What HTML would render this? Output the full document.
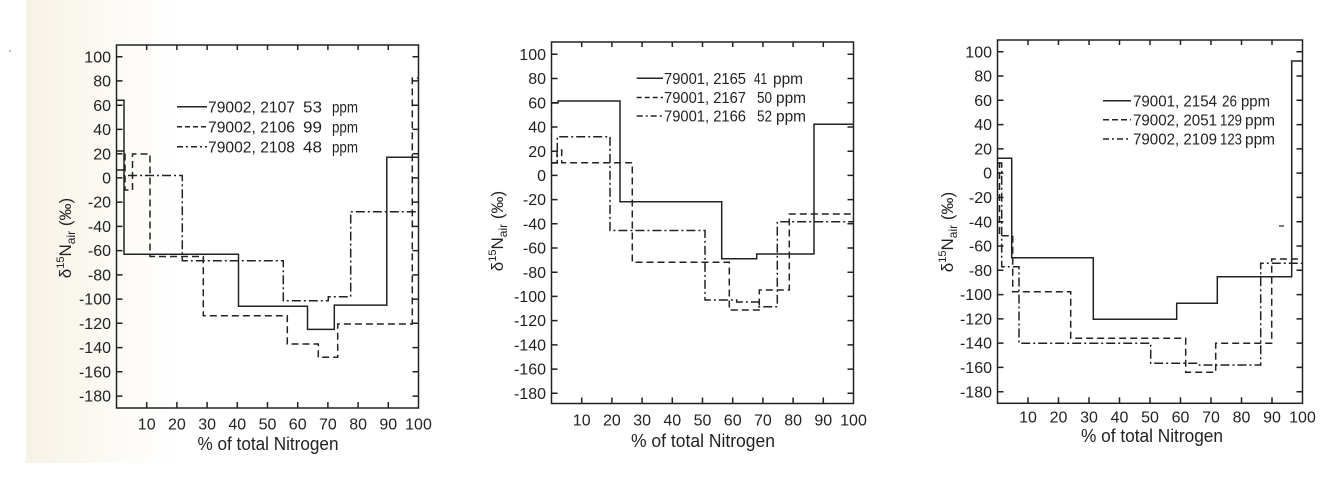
<!DOCTYPE html>
<html><head><meta charset="utf-8"><style>
html,body{margin:0;padding:0;background:#fff;}
svg{display:block;}
text{font-family:"Liberation Sans",sans-serif;fill:#222;}
</style></head><body>
<svg width="1338" height="481" viewBox="0 0 1338 481" xmlns="http://www.w3.org/2000/svg">
<defs>
<linearGradient id="cream" x1="0" y1="0" x2="1" y2="0">
<stop offset="0" stop-color="#f7f2e6"/>
<stop offset="0.5" stop-color="#fbf9f3"/>
<stop offset="1" stop-color="#ffffff"/>
</linearGradient>
</defs>
<rect x="0" y="0" width="1338" height="481" fill="#fff"/>
<rect x="26" y="0" width="150" height="463" fill="url(#cream)"/>
<circle cx="10" cy="51" r="0.8" fill="#777"/>

<g stroke="#222" stroke-width="1.5" fill="none">
<!-- Panel 1 axes -->
<rect x="116.5" y="45" width="302" height="363"/>
<path d="M116.5,56.7h6M116.5,80.9h6M116.5,105.2h6M116.5,129.4h6M116.5,153.7h6M116.5,177.9h6M116.5,202.1h6M116.5,226.4h6M116.5,250.6h6M116.5,274.9h6M116.5,299.1h6M116.5,323.3h6M116.5,347.6h6M116.5,371.8h6M116.5,396.1h6"/>
<path d="M418.5,56.7h-6M418.5,80.9h-6M418.5,105.2h-6M418.5,129.4h-6M418.5,153.7h-6M418.5,177.9h-6M418.5,202.1h-6M418.5,226.4h-6M418.5,250.6h-6M418.5,274.9h-6M418.5,299.1h-6M418.5,323.3h-6M418.5,347.6h-6M418.5,371.8h-6M418.5,396.1h-6"/>
<path d="M146.7,408v-6M176.9,408v-6M207.1,408v-6M237.3,408v-6M267.5,408v-6M297.7,408v-6M327.9,408v-6M358.1,408v-6M388.3,408v-6"/>
<path d="M146.7,45v5M176.9,45v5M207.1,45v5M237.3,45v5M267.5,45v5M297.7,45v5M327.9,45v5M358.1,45v5M388.3,45v5"/>

<!-- Panel 2 axes -->
<rect x="551.5" y="42" width="302" height="361.5"/>
<path d="M551.5,54.3h6M551.5,78.5h6M551.5,102.7h6M551.5,127h6M551.5,151.2h6M551.5,175.4h6M551.5,199.6h6M551.5,223.8h6M551.5,248h6M551.5,272.2h6M551.5,296.4h6M551.5,320.6h6M551.5,344.9h6M551.5,369.1h6M551.5,393.3h6"/>
<path d="M853.5,54.3h-6M853.5,78.5h-6M853.5,102.7h-6M853.5,127h-6M853.5,151.2h-6M853.5,175.4h-6M853.5,199.6h-6M853.5,223.8h-6M853.5,248h-6M853.5,272.2h-6M853.5,296.4h-6M853.5,320.6h-6M853.5,344.9h-6M853.5,369.1h-6M853.5,393.3h-6"/>
<path d="M581.7,403.5v-6M611.9,403.5v-6M642.1,403.5v-6M672.3,403.5v-6M702.5,403.5v-6M732.7,403.5v-6M762.9,403.5v-6M793.1,403.5v-6M823.3,403.5v-6"/>
<path d="M581.7,42v5M611.9,42v5M642.1,42v5M672.3,42v5M702.5,42v5M732.7,42v5M762.9,42v5M793.1,42v5M823.3,42v5"/>

<!-- Panel 3 axes -->
<rect x="997.5" y="40" width="305" height="363.3"/>
<path d="M997.5,51.7h6M997.5,76h6M997.5,100.3h6M997.5,124.6h6M997.5,148.9h6M997.5,173.1h6M997.5,197.4h6M997.5,221.7h6M997.5,246h6M997.5,270.3h6M997.5,294.6h6M997.5,318.9h6M997.5,343.1h6M997.5,367.4h6M997.5,391.7h6"/>
<path d="M1302.5,51.7h-6M1302.5,76h-6M1302.5,100.3h-6M1302.5,124.6h-6M1302.5,148.9h-6M1302.5,173.1h-6M1302.5,197.4h-6M1302.5,221.7h-6M1302.5,246h-6M1302.5,270.3h-6M1302.5,294.6h-6M1302.5,318.9h-6M1302.5,343.1h-6M1302.5,367.4h-6M1302.5,391.7h-6"/>
<path d="M1028,403.3v-6M1058.5,403.3v-6M1089,403.3v-6M1119.5,403.3v-6M1150,403.3v-6M1180.5,403.3v-6M1211,403.3v-6M1241.5,403.3v-6M1272,403.3v-6"/>
<path d="M1028,40v5M1058.5,40v5M1089,40v5M1119.5,40v5M1150,40v5M1180.5,40v5M1211,40v5M1241.5,40v5M1272,40v5"/>
<path d="M1279,226h5" stroke-width="1.2"/>
</g>

<!-- Series -->
<g fill="none" stroke="#222" stroke-width="1.5">
<path d="M116.5,100.3H124V254.2H238.5V306.3H307.5V329.4H334.3V305.1H386.8V157.3H418.5"/>
<path d="M116.5,151H125V190H132.5V154H150V256.5H203.3V315.7H287.3V344H318.3V357.3H337.7V324H412.3V78H418.5" stroke-dasharray="7 4"/>
<path d="M116.5,170H124V175.5H182.3V260.7H283.3V300.7H328.3V296.7H350.7V211.7H418.5" stroke-dasharray="9 3 2 3"/>

<path d="M551.5,103H558V101H620V201.7H721.7V258.7H756.7V254H814V124.3H853.5"/>
<path d="M551.5,162.7H557V150H561.7V162.7H632.3V262.3H729.3V310H759.3V290H789.3V214H853.5" stroke-dasharray="7 4"/>
<path d="M551.5,163H557.3V136.7H610V230.5H705V300H736.7V302H758.7V306.7H777.3V221.7H853.5" stroke-dasharray="9 3 2 3"/>

<path d="M997.5,158.3H1011.7V257.7H1093.3V319.3H1176.7V303.3H1217.3V276.7H1291.7V61H1302.5"/>
<path d="M997.5,163H999.5V235.7H1012.7V291.7H1070.7V338.3H1185.7V372.3H1215.7V343.3H1271.7V259H1302.5" stroke-dasharray="7 4"/>
<path d="M997.5,163H1001.7V266.7H1019V343.3H1150.7V363.3H1198V365H1260.7V263.3H1302.5" stroke-dasharray="9 3 2 3"/>
</g>

<!-- Legends -->
<g fill="none" stroke="#222" stroke-width="1.5">
<path d="M177,106.7H207"/>
<path d="M177,126.7H207" stroke-dasharray="5 3"/>
<path d="M177,146.7H207" stroke-dasharray="6 3 2 3"/>
<path d="M636.7,78.3H663"/>
<path d="M636.7,97.5H663" stroke-dasharray="5 3"/>
<path d="M636.7,116H663" stroke-dasharray="6 3 2 3"/>
<path d="M1103,100.7H1131"/>
<path d="M1103,119.7H1131" stroke-dasharray="6 3"/>
<path d="M1103,139H1131" stroke-dasharray="6 3 2 3"/>
</g>
<g font-size="16">
<text x="208" y="112.3" textLength="87" lengthAdjust="spacingAndGlyphs">79002, 2107</text>
<text x="303" y="112.3" textLength="19" lengthAdjust="spacingAndGlyphs">53</text>
<text x="332" y="112.3" textLength="26" lengthAdjust="spacingAndGlyphs">ppm</text>
<text x="208" y="132.3" textLength="87" lengthAdjust="spacingAndGlyphs">79002, 2106</text>
<text x="303" y="132.3" textLength="19" lengthAdjust="spacingAndGlyphs">99</text>
<text x="332" y="132.3" textLength="26" lengthAdjust="spacingAndGlyphs">ppm</text>
<text x="208" y="152.3" textLength="87" lengthAdjust="spacingAndGlyphs">79002, 2108</text>
<text x="303" y="152.3" textLength="19" lengthAdjust="spacingAndGlyphs">48</text>
<text x="332" y="152.3" textLength="26" lengthAdjust="spacingAndGlyphs">ppm</text>

<text x="664" y="83.9" textLength="82" lengthAdjust="spacingAndGlyphs">79001, 2165</text>
<text x="754" y="83.9" textLength="13" lengthAdjust="spacingAndGlyphs">41</text>
<text x="773" y="83.9" textLength="30" lengthAdjust="spacingAndGlyphs">ppm</text>
<text x="664" y="103.1" textLength="82" lengthAdjust="spacingAndGlyphs">79001, 2167</text>
<text x="757" y="103.1" textLength="15" lengthAdjust="spacingAndGlyphs">50</text>
<text x="776" y="103.1" textLength="30" lengthAdjust="spacingAndGlyphs">ppm</text>
<text x="664" y="121.6" textLength="82" lengthAdjust="spacingAndGlyphs">79001, 2166</text>
<text x="757" y="121.6" textLength="15" lengthAdjust="spacingAndGlyphs">52</text>
<text x="776" y="121.6" textLength="30" lengthAdjust="spacingAndGlyphs">ppm</text>

<text x="1133" y="106.3" textLength="84" lengthAdjust="spacingAndGlyphs">79001, 2154</text>
<text x="1222" y="106.3" textLength="15" lengthAdjust="spacingAndGlyphs">26</text>
<text x="1241" y="106.3" textLength="29" lengthAdjust="spacingAndGlyphs">ppm</text>
<text x="1133" y="125.3" textLength="84" lengthAdjust="spacingAndGlyphs">79002, 2051</text>
<text x="1220" y="125.3" textLength="22" lengthAdjust="spacingAndGlyphs">129</text>
<text x="1245" y="125.3" textLength="30" lengthAdjust="spacingAndGlyphs">ppm</text>
<text x="1133" y="144.6" textLength="84" lengthAdjust="spacingAndGlyphs">79002, 2109</text>
<text x="1220" y="144.6" textLength="22" lengthAdjust="spacingAndGlyphs">123</text>
<text x="1245" y="144.6" textLength="30" lengthAdjust="spacingAndGlyphs">ppm</text>
</g>

<!-- Y tick labels -->
<g font-size="16" text-anchor="end">
<text x="111" y="62.3">100</text><text x="111" y="86.5">80</text><text x="111" y="110.8">60</text><text x="111" y="135">40</text><text x="111" y="159.3">20</text><text x="111" y="183.5">0</text><text x="111" y="207.7">-20</text><text x="111" y="232">-40</text><text x="111" y="256.2">-60</text><text x="111" y="280.5">-80</text><text x="111" y="304.7">-100</text><text x="111" y="328.9">-120</text><text x="111" y="353.2">-140</text><text x="111" y="377.4">-160</text><text x="111" y="401.7">-180</text>

<text x="546" y="59.9">100</text><text x="546" y="84.1">80</text><text x="546" y="108.3">60</text><text x="546" y="132.6">40</text><text x="546" y="156.8">20</text><text x="546" y="181">0</text><text x="546" y="205.2">-20</text><text x="546" y="229.4">-40</text><text x="546" y="253.6">-60</text><text x="546" y="277.8">-80</text><text x="546" y="302">-100</text><text x="546" y="326.2">-120</text><text x="546" y="350.5">-140</text><text x="546" y="374.7">-160</text><text x="546" y="398.9">-180</text>

<text x="992" y="57.3">100</text><text x="992" y="81.6">80</text><text x="992" y="105.9">60</text><text x="992" y="130.2">40</text><text x="992" y="154.5">20</text><text x="992" y="178.7">0</text><text x="992" y="203">-20</text><text x="992" y="227.3">-40</text><text x="992" y="251.6">-60</text><text x="992" y="275.9">-80</text><text x="992" y="300.2">-100</text><text x="992" y="324.5">-120</text><text x="992" y="348.7">-140</text><text x="992" y="373">-160</text><text x="992" y="397.3">-180</text>
</g>

<!-- X tick labels -->
<g font-size="16" text-anchor="middle">
<text x="146.7" y="429.6">10</text><text x="176.9" y="429.6">20</text><text x="207.1" y="429.6">30</text><text x="237.3" y="429.6">40</text><text x="267.5" y="429.6">50</text><text x="297.7" y="429.6">60</text><text x="327.9" y="429.6">70</text><text x="358.1" y="429.6">80</text><text x="388.3" y="429.6">90</text><text x="418.5" y="429.6">100</text>

<text x="581.7" y="425.6">10</text><text x="611.9" y="425.6">20</text><text x="642.1" y="425.6">30</text><text x="672.3" y="425.6">40</text><text x="702.5" y="425.6">50</text><text x="732.7" y="425.6">60</text><text x="762.9" y="425.6">70</text><text x="793.1" y="425.6">80</text><text x="823.3" y="425.6">90</text><text x="853.5" y="425.6">100</text>

<text x="1028" y="422.3">10</text><text x="1058.5" y="422.3">20</text><text x="1089" y="422.3">30</text><text x="1119.5" y="422.3">40</text><text x="1150" y="422.3">50</text><text x="1180.5" y="422.3">60</text><text x="1211" y="422.3">70</text><text x="1241.5" y="422.3">80</text><text x="1272" y="422.3">90</text><text x="1302.5" y="422.3">100</text>
</g>

<!-- Axis titles -->
<g font-size="18" text-anchor="middle">
<text x="268" y="450" textLength="141" lengthAdjust="spacingAndGlyphs">% of total Nitrogen</text>
<text x="703" y="447" textLength="144" lengthAdjust="spacingAndGlyphs">% of total Nitrogen</text>
<text x="1152" y="442" textLength="142" lengthAdjust="spacingAndGlyphs">% of total Nitrogen</text>
</g>

<!-- Y axis titles -->
<g font-size="17" text-anchor="middle">
<text transform="translate(71,238) rotate(-90)">δ<tspan dy="-7" font-size="11">15</tspan><tspan dy="7">N</tspan><tspan dy="4" font-size="12">air</tspan><tspan dy="-4"> (‰)</tspan></text>
<text transform="translate(503,231) rotate(-90)">δ<tspan dy="-7" font-size="11">15</tspan><tspan dy="7">N</tspan><tspan dy="4" font-size="12">air</tspan><tspan dy="-4"> (‰)</tspan></text>
<text transform="translate(953,232) rotate(-90)">δ<tspan dy="-7" font-size="11">15</tspan><tspan dy="7">N</tspan><tspan dy="4" font-size="12">air</tspan><tspan dy="-4"> (‰)</tspan></text>
</g>
</svg>
</body></html>
